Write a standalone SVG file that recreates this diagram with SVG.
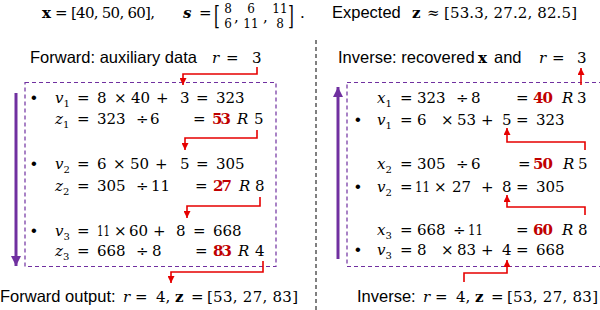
<svg xmlns="http://www.w3.org/2000/svg" width="600" height="310" viewBox="0 0 600 310">
<style>
.h{font-family:"Liberation Sans",Arial,sans-serif;font-size:16.5px;fill:#000}
.m{font-family:"DejaVu Serif","Liberation Serif",serif;font-size:15px;fill:#000}
.i{font-style:italic}
.s{font-size:10px}
.f{font-size:12px}
.bd{font-weight:bold}
.red{font-weight:bold;fill:#c00000}
.box{fill:none;stroke:#7030a0;stroke-width:1.2;stroke-dasharray:4 3}
.ra{fill:none;stroke:#e60000;stroke-width:1.6;marker-end:url(#rh)}
.pa{fill:none;stroke:#7030a0;stroke-width:3;marker-end:url(#ph)}
</style>
<defs>
<marker id="rh" markerUnits="userSpaceOnUse" markerWidth="8" markerHeight="7" refX="7" refY="3.5" orient="auto"><path d="M0,0 L7,3.5 L0,7 z" fill="#e60000"/></marker>
<marker id="ph" markerUnits="userSpaceOnUse" markerWidth="11" markerHeight="10" refX="10" refY="5" orient="auto"><path d="M0,0 L10,5 L0,10 z" fill="#7030a0"/></marker>
</defs>
<rect width="600" height="310" fill="#fff"/>

<g id="top">
<text class="m" y="18"><tspan x="42" class="bd">x</tspan><tspan x="55">=</tspan><tspan x="71" textLength="84">[40, 50, 60],</tspan><tspan x="183" class="bd i">s</tspan><tspan x="199">=</tspan></text>
<text class="m" transform="translate(214,25) scale(1,1.7)">[</text>
<text class="m f" text-anchor="middle"><tspan x="228" y="12.5">8</tspan><tspan x="228" y="27.5">6</tspan><tspan x="251" y="12.5">6</tspan><tspan x="251" y="27.5">11</tspan><tspan x="280" y="12.5">11</tspan><tspan x="280" y="27.5">8</tspan></text>
<text class="m"><tspan x="234" y="22">,</tspan><tspan x="263" y="22">,</tspan></text>
<text class="m" transform="translate(288,25) scale(1,1.7)">]</text>
<text class="m" x="300" y="18">.</text>
<text y="18"><tspan class="h" x="332">Expected</tspan><tspan class="m bd" x="412">z</tspan><tspan class="m" x="427">≈</tspan><tspan class="m" x="444" textLength="133">[53.3,  27.2,  82.5]</tspan></text>
</g>

<line x1="316" y1="40" x2="316" y2="310" stroke="#000" stroke-width="1" stroke-dasharray="4 3"/>

<g id="forward">
<text y="63"><tspan class="h" x="30">Forward: auxiliary data</tspan><tspan class="m i" x="212">r</tspan><tspan class="m" x="226">=</tspan><tspan class="m" x="252">3</tspan></text>
<rect class="box" x="25" y="82.5" width="251" height="184"/>
<g id="f1">
<text class="h" x="31" y="103">•</text>
<text class="m" y="103"><tspan x="55" class="i">v</tspan><tspan class="s" dy="4">1</tspan><tspan x="77" dy="-4">=</tspan><tspan x="97">8</tspan><tspan x="114">×</tspan><tspan x="131">40</tspan><tspan x="156">+</tspan><tspan x="180">3</tspan><tspan x="196">=</tspan><tspan x="216">323</tspan></text>
<text class="m" y="124"><tspan x="55" class="i">z</tspan><tspan class="s" dy="4">1</tspan><tspan x="77" dy="-4">=</tspan><tspan x="97">323</tspan><tspan x="136">÷</tspan><tspan x="150">6</tspan><tspan x="193">=</tspan><tspan x="212" class="red" textLength="19">53</tspan><tspan x="237" class="i">R</tspan><tspan x="254">5</tspan></text>
</g>
<g id="f2">
<text class="h" x="31" y="169">•</text>
<text class="m" y="169"><tspan x="55" class="i">v</tspan><tspan class="s" dy="4">2</tspan><tspan x="77" dy="-4">=</tspan><tspan x="97">6</tspan><tspan x="113">×</tspan><tspan x="130">50</tspan><tspan x="155">+</tspan><tspan x="180">5</tspan><tspan x="196">=</tspan><tspan x="216">305</tspan></text>
<text class="m" y="191"><tspan x="55" class="i">z</tspan><tspan class="s" dy="4">2</tspan><tspan x="77" dy="-4">=</tspan><tspan x="97">305</tspan><tspan x="136">÷</tspan><tspan x="151">11</tspan><tspan x="195">=</tspan><tspan x="213" class="red" textLength="19">27</tspan><tspan x="239" class="i">R</tspan><tspan x="255">8</tspan></text>
</g>
<g id="f3">
<text class="h" x="31" y="236">•</text>
<text class="m" y="236"><tspan x="55" class="i">v</tspan><tspan class="s" dy="4">3</tspan><tspan x="77" dy="-4">=</tspan><tspan x="97" textLength="13" lengthAdjust="spacingAndGlyphs">11</tspan><tspan x="114">×</tspan><tspan x="129">60</tspan><tspan x="153">+</tspan><tspan x="176">8</tspan><tspan x="193">=</tspan><tspan x="213">668</tspan></text>
<text class="m" y="256"><tspan x="55" class="i">z</tspan><tspan class="s" dy="4">3</tspan><tspan x="77" dy="-4">=</tspan><tspan x="97">668</tspan><tspan x="136">÷</tspan><tspan x="152">8</tspan><tspan x="195">=</tspan><tspan x="213" class="red" textLength="19">83</tspan><tspan x="238" class="i">R</tspan><tspan x="255">4</tspan></text>
</g>
<text y="302"><tspan class="h" x="0">Forward output:</tspan><tspan class="m i" x="123">r</tspan><tspan class="m" x="135">=</tspan><tspan class="m" x="156">4,</tspan><tspan class="m bd" x="175">z</tspan><tspan class="m" x="191">=</tspan><tspan class="m" x="207" textLength="91">[53, 27, 83]</tspan></text>
</g>

<g id="inverse">
<text y="63"><tspan class="h" x="338">Inverse: recovered</tspan><tspan class="m bd" x="478">x</tspan><tspan class="h" x="494">and</tspan><tspan class="m i" x="539">r</tspan><tspan class="m" x="552">=</tspan><tspan class="m" x="577">3</tspan></text>
<rect class="box" x="347" y="82.5" width="260" height="184"/>
<g id="i1">
<text class="m" y="103"><tspan x="377" class="i">x</tspan><tspan class="s" dy="4">1</tspan><tspan x="400" dy="-4">=</tspan><tspan x="417">323</tspan><tspan x="456">÷</tspan><tspan x="471">8</tspan><tspan x="516">=</tspan><tspan x="533" class="red" textLength="20">40</tspan><tspan x="562" class="i">R</tspan><tspan x="577">3</tspan></text>
<text class="h" x="355" y="125">•</text>
<text class="m" y="125"><tspan x="377" class="i">v</tspan><tspan class="s" dy="4">1</tspan><tspan x="400" dy="-4">=</tspan><tspan x="417">6</tspan><tspan x="441">×</tspan><tspan x="457">53</tspan><tspan x="481">+</tspan><tspan x="502">5</tspan><tspan x="516">=</tspan><tspan x="536">323</tspan></text>
</g>
<g id="i2">
<text class="m" y="169"><tspan x="377" class="i">x</tspan><tspan class="s" dy="4">2</tspan><tspan x="400" dy="-4">=</tspan><tspan x="417">305</tspan><tspan x="456">÷</tspan><tspan x="471">6</tspan><tspan x="518">=</tspan><tspan x="533" class="red" textLength="20">50</tspan><tspan x="563" class="i">R</tspan><tspan x="578">5</tspan></text>
<text class="h" x="355" y="192">•</text>
<text class="m" y="192"><tspan x="377" class="i">v</tspan><tspan class="s" dy="4">2</tspan><tspan x="400" dy="-4">=</tspan><tspan x="415" textLength="15" lengthAdjust="spacingAndGlyphs">11</tspan><tspan x="434">×</tspan><tspan x="452">27</tspan><tspan x="481">+</tspan><tspan x="502">8</tspan><tspan x="516">=</tspan><tspan x="536">305</tspan></text>
</g>
<g id="i3">
<text class="m" y="235"><tspan x="377" class="i">x</tspan><tspan class="s" dy="4">3</tspan><tspan x="400" dy="-4">=</tspan><tspan x="417">668</tspan><tspan x="453">÷</tspan><tspan x="468" textLength="15" lengthAdjust="spacingAndGlyphs">11</tspan><tspan x="516">=</tspan><tspan x="533" class="red" textLength="20">60</tspan><tspan x="562" class="i">R</tspan><tspan x="578">8</tspan></text>
<text class="h" x="355" y="255">•</text>
<text class="m" y="255"><tspan x="377" class="i">v</tspan><tspan class="s" dy="4">3</tspan><tspan x="400" dy="-4">=</tspan><tspan x="417">8</tspan><tspan x="441">×</tspan><tspan x="457">83</tspan><tspan x="481">+</tspan><tspan x="502">4</tspan><tspan x="516">=</tspan><tspan x="536">668</tspan></text>
</g>
<text y="302"><tspan class="h" x="357">Inverse:</tspan><tspan class="m i" x="423">r</tspan><tspan class="m" x="435">=</tspan><tspan class="m" x="456">4,</tspan><tspan class="m bd" x="475">z</tspan><tspan class="m" x="491">=</tspan><tspan class="m" x="507" textLength="91">[53, 27, 83]</tspan></text>
</g>

<g id="connectors">
<path class="pa" d="M16,93 V266"/>
<path class="pa" d="M338,259 V87"/>
<path class="ra" d="M257,67 V74 H183 V85"/>
<path class="ra" d="M257,130 V138 H185 V150"/>
<path class="ra" d="M260,197 V206 H187 V218"/>
<path class="ra" d="M263,261 V272 H171 V283"/>
<path class="ra" d="M581,85 V68"/>
<path class="ra" d="M585,150 V142 H507 V128"/>
<path class="ra" d="M585,215 V207 H507 V195"/>
<path class="ra" d="M464,282 V273 H507 V260"/>
</g>
</svg>
